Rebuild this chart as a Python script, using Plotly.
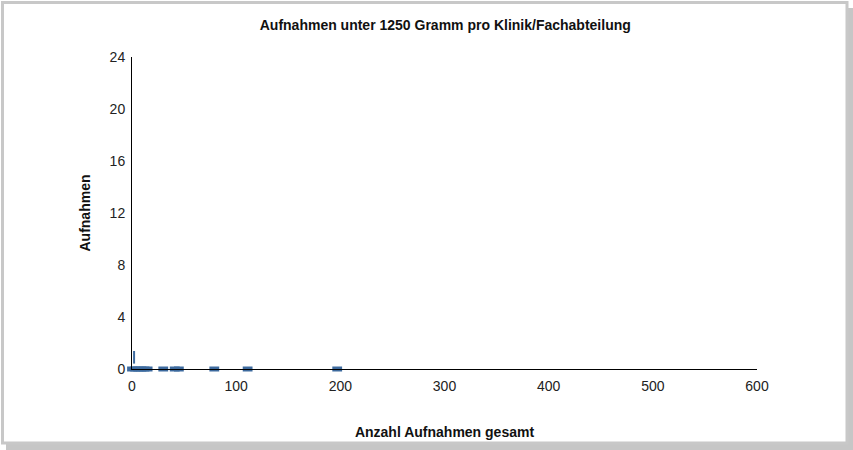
import plotly.graph_objects as go

# Data (total admissions vs admissions < 1250 g)
x_total = [0, 3, 6, 9, 12, 15, 30, 41, 45, 79, 111, 197]
y_small = [0, 0, 0, 0, 0, 0, 0, 0, 0, 0, 0, 0]
x_pos = [2]
y_pos = [0.9]

x_ticks = [0, 100, 200, 300, 400, 500, 600]
y_ticks = [0, 4, 8, 12, 16, 20, 24]

blue = "#3d6a9e"

L, T, W, H = 132, 57, 625, 312


def px(x):
    return (x - L) / W


def py(y):
    return (T + H - y) / H


fig = go.Figure()
fig.add_trace(go.Scatter(
    x=x_total, y=y_small, mode="markers", cliponaxis=False,
    marker=dict(symbol="line-ew", size=7, color=blue,
                line=dict(color=blue, width=5)),
    showlegend=False))
fig.add_trace(go.Scatter(
    x=x_pos, y=y_pos, mode="markers", cliponaxis=False,
    marker=dict(symbol="line-ns", size=9, color=blue,
                line=dict(color=blue, width=2)),
    showlegend=False))

axis_font = dict(family="Liberation Sans, Arial", size=14, color="#222222")
title_font = dict(family="Liberation Sans, Arial", size=14, color="#111111", weight="bold")
fig.update_layout(
    width=853, height=450,
    margin=dict(l=L, r=853 - L - W, t=T, b=450 - T - H, autoexpand=False),
    paper_bgcolor="white", plot_bgcolor="white",
    title=dict(text="Aufnahmen unter 1250 Gramm pro Klinik/Fachabteilung",
               x=0.522, xanchor="center", y=0.945, yanchor="middle",
               font=dict(family="Liberation Sans Narrow, Arial Narrow, Liberation Sans",
                         size=14, color="#111111", weight="bold")),
    xaxis=dict(range=[0, 600], tickvals=x_ticks, showgrid=False, zeroline=False,
               showline=True, linecolor="black", linewidth=1, automargin=False,
               ticks="", tickfont=axis_font, ticklabelstandoff=4,
               title=dict(text="Anzahl Aufnahmen gesamt", standoff=34, font=title_font)),
    yaxis=dict(range=[0, 24], tickvals=y_ticks, showgrid=False, zeroline=False,
               showline=True, linecolor="black", linewidth=1, automargin=False,
               ticks="", tickfont=axis_font, ticklabelstandoff=3,
               title=dict(text="Aufnahmen", standoff=15, font=title_font)),
    shapes=[
        dict(type="rect", xref="paper", yref="paper",
             x0=px(6), x1=px(853), y0=py(450), y1=py(8),
             line=dict(width=0), fillcolor="#c6c6c6", layer="below"),
        dict(type="rect", xref="paper", yref="paper",
             x0=px(2.5), x1=px(847), y0=py(443), y1=py(2.5),
             line=dict(color="#c8c8c8", width=3), fillcolor="white", layer="below"),
    ],
)

fig.write_html("out.html", config={"displayModeBar": False},
               post_script="document.body.style.margin='0px';document.body.style.overflow='hidden';")
